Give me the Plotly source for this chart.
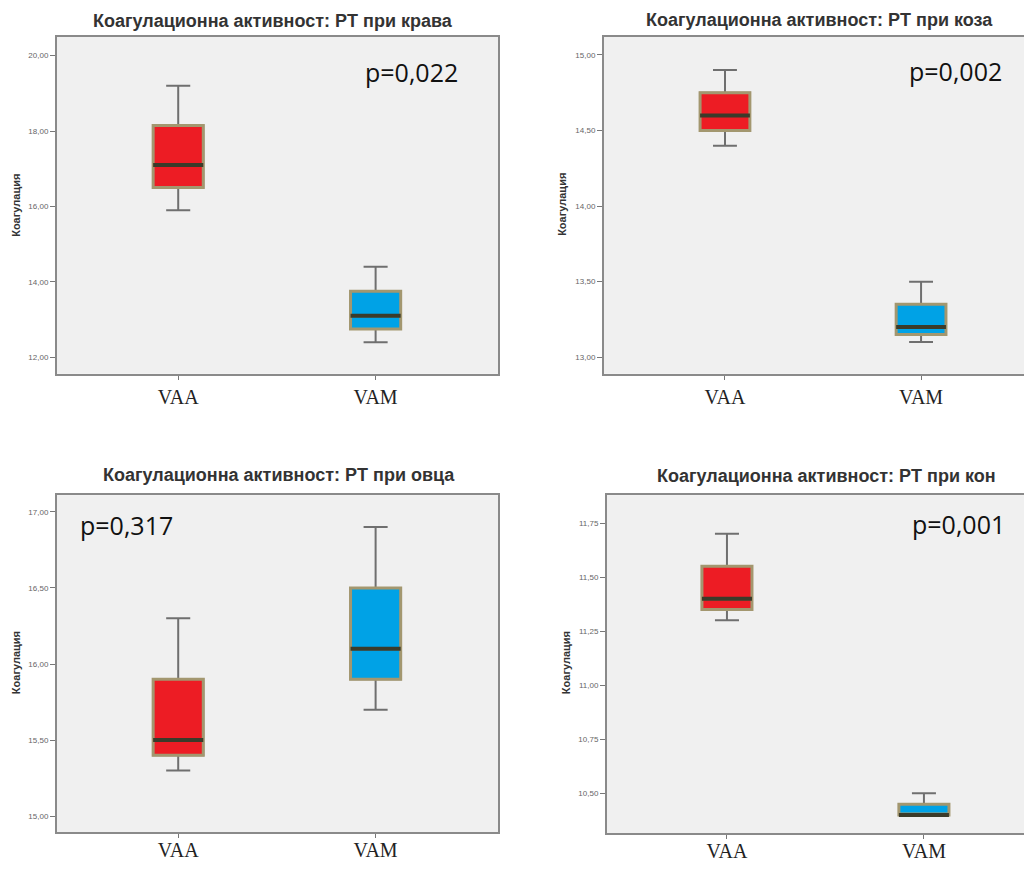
import plotly.graph_objects as go

# ---------------- data ----------------
groups = ["VAA", "VAM"]

titles = [
    "Коагулационна активност: PT при крава",
    "Коагулационна активност: PT при коза",
    "Коагулационна активност: PT при овца",
    "Коагулационна активност: PT при кон",
]
p_values = ["p=0,022", "p=0,002", "p=0,317", "p=0,001"]
y_label = "Коагулация"

# [lower whisker, Q1, median, Q3, upper whisker]
cow_vaa = [15.9, 16.5, 17.1, 18.15, 19.2]
cow_vam = [12.4, 12.75, 13.1, 13.75, 14.4]
goat_vaa = [14.4, 14.5, 14.6, 14.75, 14.9]
goat_vam = [13.1, 13.15, 13.2, 13.35, 13.5]
sheep_vaa = [15.3, 15.4, 15.5, 15.9, 16.3]
sheep_vam = [15.7, 15.9, 16.1, 16.5, 16.9]
horse_vaa = [11.3, 11.35, 11.4, 11.55, 11.7]
horse_vam = [10.4, 10.4, 10.4, 10.45, 10.5]

cow_ticks = [12.0, 14.0, 16.0, 18.0, 20.0]
cow_ticktext = ["12,00", "14,00", "16,00", "18,00", "20,00"]
goat_ticks = [13.0, 13.5, 14.0, 14.5, 15.0]
goat_ticktext = ["13,00", "13,50", "14,00", "14,50", "15,00"]
sheep_ticks = [15.0, 15.5, 16.0, 16.5, 17.0]
sheep_ticktext = ["15,00", "15,50", "16,00", "16,50", "17,00"]
horse_ticks = [10.5, 10.75, 11.0, 11.25, 11.5, 11.75]
horse_ticktext = ["10,50", "10,75", "11,00", "11,25", "11,50", "11,75"]

# ---------------- style / layout ----------------
OFF = 8                     # page body margin in the browser
W, H = 1032 - 2 * OFF, 870 - 2 * OFF
FILLS = ["#ED1C24", "#00A2E6"]
WHISKER = "#6f6f6f"
BORDER = "#A3976F"
MEDIAN = "#3b3b2a"
BOX_W = 0.254

panels = [
    dict(data=(cow_vaa, cow_vam), tv=cow_ticks, tt=cow_ticktext, yr=[11.56, 20.5],
         px=(57, 498), py=(37, 376), xr=[-0.614, 1.62], right=True, lab=0,
         t_xy=(273, 21), p_xy=(411, 72), yl_xy=(16, 207)),
    dict(data=(goat_vaa, goat_vam), tv=goat_ticks, tt=goat_ticktext, yr=[12.89, 15.12],
         px=(604, 1024), py=(37, 376), xr=[-0.617, 1.525], right=False, lab=0,
         t_xy=(819, 20), p_xy=(955, 71), yl_xy=(562, 206)),
    dict(data=(sheep_vaa, sheep_vam), tv=sheep_ticks, tt=sheep_ticktext, yr=[14.895, 17.11],
         px=(57, 498), py=(498, 837), xr=[-0.614, 1.62], right=True, lab=-5,
         t_xy=(279, 478), p_xy=(126, 528), yl_xy=(16, 667)),
    dict(data=(horse_vaa, horse_vam), tv=horse_ticks, tt=horse_ticktext, yr=[10.316, 11.879],
         px=(607, 1024), py=(498, 838), xr=[-0.609, 1.508], right=False, lab=-5,
         t_xy=(826, 479), p_xy=(958, 527), yl_xy=(566, 667)),
]


def fx(v):
    return min(max((v - OFF) / W, 0.0), 1.0)


def fy(v):
    return min(max(1 - (v - OFF) / H, 0.0), 1.0)


fig = go.Figure()
layout = dict(
    width=W, height=H,
    margin=dict(l=0, r=0, t=0, b=0),
    paper_bgcolor="white",
    plot_bgcolor="#F0F0F0",
    boxmode="overlay",
    showlegend=False,
    annotations=[],
)

for i, p in enumerate(panels, start=1):
    xa = "x" if i == 1 else f"x{i}"
    ya = "y" if i == 1 else f"y{i}"
    for g, vals, fill in zip(groups, p["data"], FILLS):
        lo, q1, med, q3, hi = vals
        common = dict(x=[g], xaxis=xa, yaxis=ya, width=BOX_W, boxpoints=False,
                      showlegend=False, hoverinfo="skip")
        fig.add_trace(go.Box(q1=[q1], median=[med], q3=[q3], lowerfence=[lo], upperfence=[hi],
                             line=dict(color=WHISKER, width=2), fillcolor=fill,
                             whiskerwidth=0.48, **common))
        fig.add_trace(go.Box(q1=[q1], median=[med], q3=[q3], lowerfence=[q1], upperfence=[q3],
                             line=dict(color=BORDER, width=3), fillcolor=fill,
                             whiskerwidth=0, **common))
        fig.add_trace(go.Box(q1=[med], median=[med], q3=[med], lowerfence=[med], upperfence=[med],
                             line=dict(color=MEDIAN, width=4), fillcolor="rgba(0,0,0,0)",
                             whiskerwidth=0, **common))

    x0, x1 = p["px"]
    y0, y1 = p["py"]
    xkey = "xaxis" if i == 1 else f"xaxis{i}"
    ykey = "yaxis" if i == 1 else f"yaxis{i}"
    layout[xkey] = dict(
        domain=[fx(x0), fx(x1)], anchor=ya, type="category",
        categoryorder="array", categoryarray=groups, range=p["xr"],
        showline=True, mirror=True, linecolor="#8a8a8a", linewidth=2,
        ticks="outside", ticklen=4, tickcolor="#777", tickwidth=1,
        ticklabelstandoff=p["lab"],
        tickfont=dict(family="Liberation Serif", size=20, color="#222"),
        showgrid=False, zeroline=False, fixedrange=True,
    )
    layout[ykey] = dict(
        domain=[fy(y1), fy(y0)], anchor=xa, range=p["yr"],
        tickvals=p["tv"], ticktext=p["tt"],
        showline=True, mirror=p["right"], linecolor="#8a8a8a", linewidth=2,
        ticks="outside", ticklen=5, tickcolor="#777", tickwidth=1,
        tickfont=dict(family="Liberation Sans", size=8, color="#666"),
        showgrid=False, zeroline=False, fixedrange=True,
    )
    tx, ty = p["t_xy"]
    layout["annotations"].append(dict(
        text=titles[i - 1], xref="paper", yref="paper", x=fx(tx), y=fy(ty),
        xanchor="center", yanchor="middle", showarrow=False,
        font=dict(family="Liberation Sans", size=18, color="#333", weight="bold")))
    pxx, pyy = p["p_xy"]
    layout["annotations"].append(dict(
        text=p_values[i - 1], xref="paper", yref="paper", x=fx(pxx), y=fy(pyy),
        xanchor="center", yanchor="middle", showarrow=False,
        font=dict(family="Open Sans", size=25, color="#111")))
    lx, ly = p["yl_xy"]
    layout["annotations"].append(dict(
        text=y_label, xref="paper", yref="paper", x=fx(lx), y=fy(ly),
        xanchor="center", yanchor="middle", showarrow=False, textangle=-90,
        font=dict(family="Liberation Sans", size=11, color="#333", weight="bold")))

fig.update_layout(**layout)
fig.write_html("out.html")
